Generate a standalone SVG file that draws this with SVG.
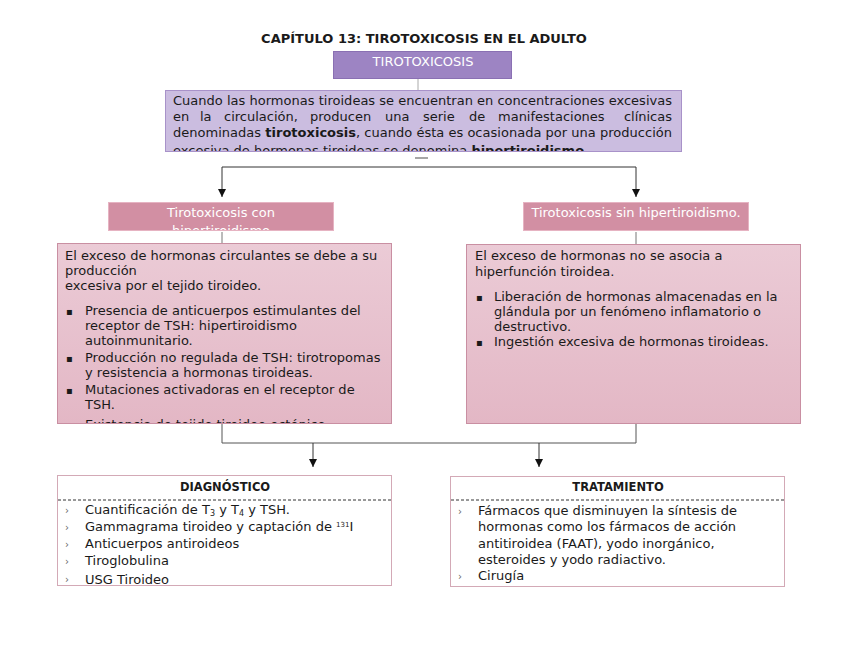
<svg xmlns="http://www.w3.org/2000/svg" width="848" height="655" viewBox="0 0 848 655">
<style>
text{font-family:"DejaVu Sans","Noto Sans",sans-serif;fill:#1a1a1a;font-size:13px}
.t{font-size:13px;font-weight:bold}
.w{fill:#ffffff;font-size:13px}
.b{font-weight:bold}
.ln{stroke:#333;stroke-width:1;fill:none}
.sm{font-size:11.5px}
.bul{font-size:10px}
.ch{font-size:10px;fill:#666}
</style>
<defs>
<marker id="ar" viewBox="0 0 8 8" refX="8" refY="4" markerWidth="8" markerHeight="8" markerUnits="userSpaceOnUse" orient="auto-start-reverse">
<path d="M0,0 L8,4 L0,8 Z" fill="#111"/>
</marker>
<linearGradient id="pg" x1="0" y1="0" x2="0" y2="1">
<stop offset="0" stop-color="#ebcbd6"/>
<stop offset="1" stop-color="#e3b7c5"/>
</linearGradient>
<clipPath id="c1"><rect x="165" y="90" width="517" height="61"/></clipPath>
<clipPath id="c2"><rect x="108" y="202" width="226" height="28"/></clipPath>
<clipPath id="c3"><rect x="57" y="243" width="334" height="180"/></clipPath>
<clipPath id="c4"><rect x="57" y="475" width="335" height="110"/></clipPath>
</defs>
<rect width="848" height="655" fill="#fff"/>
<text x="424" y="43" text-anchor="middle" class="t">CAPÍTULO 13: TIROTOXICOSIS EN EL ADULTO</text>

<g id="connectors">
<line x1="418" y1="78" x2="418" y2="90" stroke="#aaa"/>
<line x1="415" y1="158" x2="428" y2="158" stroke="#888" stroke-width="1.5"/>
<polyline class="ln" points="222,197 222,167 636,167 636,197" marker-start="url(#ar)" marker-end="url(#ar)"/>
<line x1="222" y1="232" x2="222" y2="243" stroke="#777"/>
<line x1="636" y1="232" x2="636" y2="244" stroke="#777"/>
<polyline class="ln" points="222,424 222,443 636,443 636,424" style="stroke:#555"/>
<line class="ln" x1="313" y1="443" x2="313" y2="467" marker-end="url(#ar)"/>
<line class="ln" x1="539" y1="443" x2="539" y2="467" marker-end="url(#ar)"/>
</g>

<g id="tirotoxicosis">
<rect x="333.5" y="51.5" width="178" height="27" fill="#9d84c3" stroke="#8a70b3"/>
<text x="423" y="66" text-anchor="middle" class="w">TIROTOXICOSIS</text>
</g>

<g id="definicion">
<rect x="165.5" y="90.5" width="516" height="61" fill="#cbbde0" stroke="#a892c9"/>
<g clip-path="url(#c1)">
<text x="173" y="105" textLength="499" lengthAdjust="spacing">Cuando las hormonas tiroideas se encuentran en concentraciones excesivas</text>
<text y="121"><tspan x="173">en</tspan><tspan x="200">la</tspan><tspan x="224">circulación,</tspan><tspan x="310">producen</tspan><tspan x="385">una</tspan><tspan x="423">serie</tspan><tspan x="469">de</tspan><tspan x="498">manifestaciones</tspan></text>
<text x="672" y="121" text-anchor="end">clínicas</text>
<text x="173" y="137" textLength="499" lengthAdjust="spacing">denominadas <tspan class="b">tirotoxicosis</tspan>, cuando ésta es ocasionada por una producción</text>
<text x="173" y="155">excesiva de hormonas tiroideas se denomina <tspan class="b">hipertiroidismo</tspan>.</text>
</g>
</g>

<g id="con-hiper">
<rect x="108.5" y="202.5" width="225" height="28" fill="#d28fa3" stroke="#e6b3c2"/>
<g clip-path="url(#c2)">
<text x="221" y="217" text-anchor="middle" class="w">Tirotoxicosis con</text>
<text x="221" y="235" text-anchor="middle" class="w">hipertiroidismo</text>
</g>
</g>

<g id="sin-hiper">
<rect x="523.5" y="202.5" width="225" height="28" fill="#d28fa3" stroke="#e6b3c2"/>
<text x="636" y="217" text-anchor="middle" class="w">Tirotoxicosis sin hipertiroidismo.</text>
</g>

<g id="con-detalle">
<rect x="57.5" y="243.5" width="334" height="180" fill="url(#pg)" stroke="#c98fa2"/>
<g clip-path="url(#c3)">
<text x="65" y="260">El exceso de hormonas circulantes se debe a su</text>
<text x="65" y="275">producción</text>
<text x="65" y="290">excesiva por el tejido tiroideo.</text>
<text x="66" y="315" class="bul">▪</text>
<text x="85" y="315">Presencia de anticuerpos estimulantes del</text>
<text x="85" y="330">receptor de TSH: hipertiroidismo</text>
<text x="85" y="345">autoinmunitario.</text>
<text x="66" y="362" class="bul">▪</text>
<text x="85" y="362">Producción no regulada de TSH: tirotropomas</text>
<text x="85" y="377">y resistencia a hormonas tiroideas.</text>
<text x="66" y="394" class="bul">▪</text>
<text x="85" y="394">Mutaciones activadoras en el receptor de</text>
<text x="85" y="409">TSH.</text>
<text x="66" y="429" class="bul">▪</text>
<text x="85" y="429">Existencia de tejido tiroideo ectópico.</text>
</g>
</g>

<g id="sin-detalle">
<rect x="466.5" y="244.5" width="334" height="179" fill="url(#pg)" stroke="#c98fa2"/>
<text x="475" y="260">El exceso de hormonas no se asocia a</text>
<text x="475" y="276">hiperfunción tiroidea.</text>
<text x="476" y="301" class="bul">▪</text>
<text x="494" y="301">Liberación de hormonas almacenadas en la</text>
<text x="494" y="316">glándula por un fenómeno inflamatorio o</text>
<text x="494" y="331">destructivo.</text>
<text x="476" y="346" class="bul">▪</text>
<text x="494" y="346">Ingestión excesiva de hormonas tiroideas.</text>
</g>

<g id="diagnostico">
<rect x="57.5" y="475.5" width="334" height="110" fill="#fff" stroke="#d3a9b6"/>
<text x="225" y="491" text-anchor="middle" class="b sm">DIAGNÓSTICO</text>
<line x1="58" y1="500" x2="391" y2="500" stroke="#333" stroke-dasharray="3,2"/>
<g clip-path="url(#c4)">
<text x="65" y="514" class="ch">›</text>
<text x="85" y="514">Cuantificación de T<tspan font-size="8" dy="2">3</tspan><tspan dy="-2"> y T</tspan><tspan font-size="8" dy="2">4</tspan><tspan dy="-2"> y TSH.</tspan></text>
<text x="65" y="531" class="ch">›</text>
<text x="85" y="531">Gammagrama tiroideo y captación de <tspan font-size="7" dy="-4">131</tspan><tspan dy="4">I</tspan></text>
<text x="65" y="548" class="ch">›</text>
<text x="85" y="548">Anticuerpos antiroideos</text>
<text x="65" y="565" class="ch">›</text>
<text x="85" y="565">Tiroglobulina</text>
<text x="65" y="583" class="ch">›</text>
<text x="85" y="584">USG Tiroideo</text>
</g>
</g>

<g id="tratamiento">
<rect x="450.5" y="476.5" width="334" height="110" fill="#fff" stroke="#d3a9b6"/>
<text x="618" y="491" text-anchor="middle" class="b sm">TRATAMIENTO</text>
<line x1="451" y1="500" x2="784" y2="500" stroke="#333" stroke-dasharray="3,2"/>
<text x="458" y="515" class="ch">›</text>
<text x="478" y="515">Fármacos que disminuyen la síntesis de</text>
<text x="478" y="531">hormonas como los fármacos de acción</text>
<text x="478" y="548">antitiroidea (FAAT), yodo inorgánico,</text>
<text x="478" y="564">esteroides y yodo radiactivo.</text>
<text x="458" y="580" class="ch">›</text>
<text x="478" y="580">Cirugía</text>
</g>
</svg>
